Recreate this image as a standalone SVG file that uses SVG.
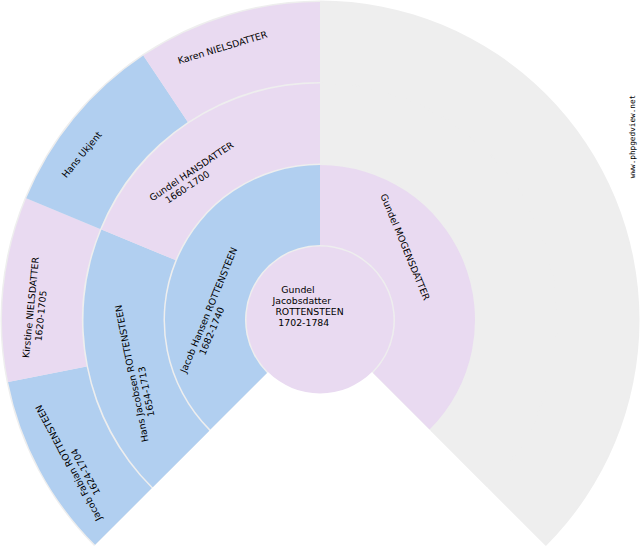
<svg xmlns="http://www.w3.org/2000/svg" width="640" height="550" viewBox="0 0 640 550">
<style>
.m{fill:#b1cff0}
.f{fill:#e9daf1}
.u{fill:#eeeeee}
text{font-family:"DejaVu Sans","Noto Sans",sans-serif;font-size:9.33px;fill:#000000}
.wm{font-family:"DejaVu Sans Mono","Liberation Mono",monospace;font-size:7.7px;fill:#000000}
</style>
<rect x="0" y="0" width="640" height="550" fill="#ffffff"/>
<g id="background">
<path class="u" d="M320,320 L94.08,545.92 A319.5,319.5 0 1 1 545.92,545.92 Z"/>
</g>
<g id="connectors"></g>
<g id="unknown">
<path class="u" d="M320,2 A318,318 0 0 1 544.86,544.86 L488.29,488.29 A238,238 0 0 0 320,82 Z"/>
<path class="u" d="M320,83.5 A236.5,236.5 0 0 1 487.23,487.23 L430.66,430.66 A156.5,156.5 0 0 0 320,163.5 Z"/>
</g>
<g id="jacob-fabian">
<path class="m" d="M95.14,544.86 A318,318 0 0 1 8.11,382.04 L86.57,366.43 A238,238 0 0 0 151.71,488.29 Z"/>
<text transform="translate(107.7,529.1) rotate(-118.125)"><tspan x="11.86" y="0">Jacob Fabian ROTTENSTEEN</tspan><tspan x="35.59" y="10.8">1624-1704</tspan></text>
</g>
<g id="kirstine">
<path class="f" d="M8.11,382.04 A318,318 0 0 1 26.21,198.31 L100.12,228.92 A238,238 0 0 0 86.57,366.43 Z"/>
<text transform="translate(27.3,375.9) rotate(-84.375)"><tspan x="17.8" y="0">Kirstine NIELSDATTER</tspan><tspan x="35.59" y="10.8">1620-1705</tspan></text>
</g>
<g id="hans-ukjent">
<path class="m" d="M26.21,198.31 A318,318 0 0 1 143.33,55.59 L187.77,122.11 A238,238 0 0 0 100.12,228.92 Z"/>
<text transform="translate(45.6,203.8) rotate(-50.625)"><tspan x="32.63" y="0">Hans Ukjent</tspan></text>
</g>
<g id="karen">
<path class="f" d="M143.33,55.59 A318,318 0 0 1 320,2 L320,82 A238,238 0 0 0 187.77,122.11 Z"/>
<text transform="translate(156.3,71) rotate(-16.875)"><tspan x="23.73" y="0">Karen NIELSDATTER</tspan></text>
</g>
<g id="hans-jacobsen">
<path class="m" d="M152.77,487.23 A236.5,236.5 0 0 1 101.5,229.5 L175.41,260.11 A156.5,156.5 0 0 0 209.34,430.66 Z"/>
<text transform="translate(151.4,455.8) rotate(-101.25)"><tspan x="14.83" y="0">Hans Jacobsen ROTTENSTEEN</tspan><tspan x="38.56" y="10.8">1654-1713</tspan></text>
</g>
<g id="gundel-hansdatter">
<path class="f" d="M101.5,229.5 A236.5,236.5 0 0 1 320,83.5 L320,163.5 A156.5,156.5 0 0 0 175.41,260.11 Z"/>
<text transform="translate(130,216.3) rotate(-33.75)"><tspan x="26.69" y="0">Gundel HANSDATTER</tspan><tspan x="38.56" y="10.8">1660-1700</tspan></text>
</g>
<g id="jacob-hansen">
<path class="m" d="M210.4,429.6 A155,155 0 0 1 320,165 L320,245 A75,75 0 0 0 266.97,373.03 Z"/>
<text transform="translate(180.35,387.25) rotate(-67.5)"><tspan x="14.83" y="0">Jacob Hansen ROTTENSTEEN</tspan><tspan x="38.56" y="10.8">1682-1740</tspan></text>
</g>
<g id="gundel-mogensdatter">
<path class="f" d="M320,165 A155,155 0 0 1 429.6,429.6 L373.03,373.03 A75,75 0 0 0 320,245 Z"/>
<text transform="translate(371.2,173.7) rotate(67.5)"><tspan x="23.73" y="0">Gundel MOGENSDATTER</tspan></text>
</g>
<g id="root">
<circle class="f" cx="320" cy="320" r="73.5"/>
<text transform="translate(266.5,293.25)"><tspan x="14.83" y="0">Gundel</tspan><tspan x="5.93" y="10.8">Jacobsdatter</tspan><tspan x="8.9" y="21.6">ROTTENSTEEN</tspan><tspan x="11.86" y="32.4">1702-1784</tspan></text>
</g>
<text class="wm" transform="translate(634.5,136.5) rotate(-90)" text-anchor="middle">www.phpgedview.net</text>
</svg>
